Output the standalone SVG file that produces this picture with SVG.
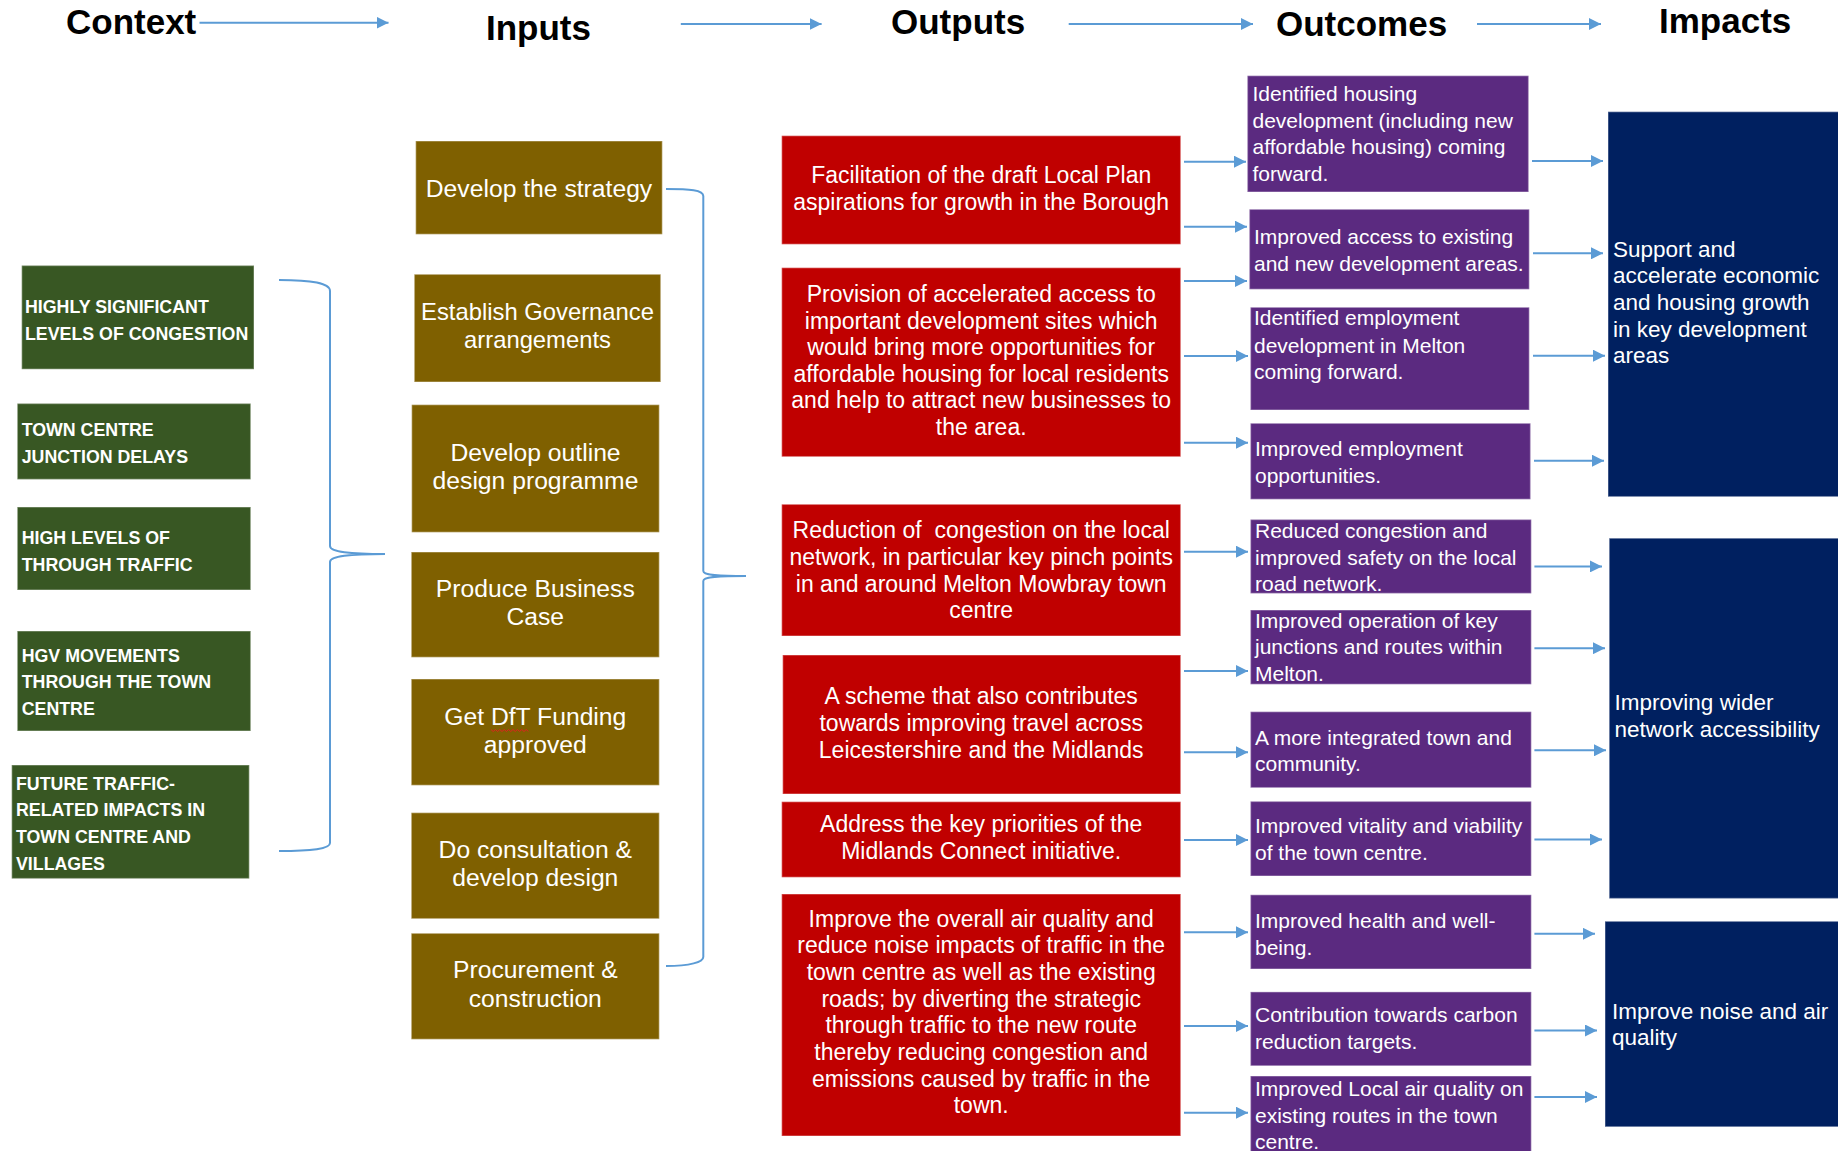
<svg xmlns="http://www.w3.org/2000/svg" width="1838" height="1151" viewBox="0 0 1838 1151">
<style>
.box{stroke:#ffffff;stroke-opacity:.3;stroke-width:1.5}
.ctx{fill:#385723}.inp{fill:#7F6000}.out{fill:#C00000}.oc{fill:#5B2A80}.im{fill:#002060}
text{font-family:"Liberation Sans",Arial,sans-serif;fill:#ffffff}
.hd{font-size:35px;font-weight:bold;fill:#000000}
.tc{font-weight:bold;font-size:17.8px}
.ti{font-size:24.7px;text-anchor:middle}
.to{font-size:23px;text-anchor:middle}
.toc{font-size:21px}
.tim{font-size:22.5px}
.ln{stroke:#5B9BD5;stroke-width:2;fill:none}
.ar{stroke:#5B9BD5;stroke-width:2;fill:none;marker-end:url(#ah)}
</style>
<defs>
<marker id="ah" viewBox="0 0 10 10" refX="10" refY="5" markerUnits="userSpaceOnUse" markerWidth="12" markerHeight="12" orient="auto">
<path d="M0,0 L10,5 L0,10 z" fill="#5B9BD5"/>
</marker>
</defs>
<rect width="1838" height="1151" fill="#ffffff"/>

<g id="headers">
<text class="hd" x="66" y="34">Context</text>
<text class="hd" x="486" y="40">Inputs</text>
<text class="hd" x="891" y="34">Outputs</text>
<text class="hd" x="1276" y="36">Outcomes</text>
<text class="hd" x="1659" y="33">Impacts</text>
</g>

<g id="context">
<g id="ctx1"><rect class="box ctx" x="21.7" y="265.5" width="232.3" height="103.7"/>
<text class="tc"><tspan x="25" y="313">HIGHLY SIGNIFICANT</tspan><tspan x="25" y="340">LEVELS OF CONGESTION</tspan></text></g>
<g id="ctx2"><rect class="box ctx" x="17.3" y="403.5" width="233.4" height="75.9"/>
<text class="tc"><tspan x="21.7" y="436">TOWN CENTRE</tspan><tspan x="21.7" y="462.5">JUNCTION DELAYS</tspan></text></g>
<g id="ctx3"><rect class="box ctx" x="17.3" y="507" width="233.4" height="83"/>
<text class="tc"><tspan x="21.7" y="544">HIGH LEVELS OF</tspan><tspan x="21.7" y="570.5">THROUGH TRAFFIC</tspan></text></g>
<g id="ctx4"><rect class="box ctx" x="17.3" y="631" width="233.4" height="100"/>
<text class="tc"><tspan x="21.7" y="661.5">HGV MOVEMENTS</tspan><tspan x="21.7" y="688">THROUGH THE TOWN</tspan><tspan x="21.7" y="715">CENTRE</tspan></text></g>
<g id="ctx5"><rect class="box ctx" x="11.7" y="765" width="237.6" height="113.6"/>
<text class="tc"><tspan x="16" y="789.6">FUTURE TRAFFIC-</tspan><tspan x="16" y="816.3">RELATED IMPACTS IN</tspan><tspan x="16" y="843">TOWN CENTRE AND</tspan><tspan x="16" y="869.6">VILLAGES</tspan></text></g>
</g>

<g id="inputs">
<g id="in1"><rect class="box inp" x="415.7" y="141" width="246.6" height="93.3"/>
<text class="ti"><tspan x="539" y="196.7">Develop the strategy</tspan></text></g>
<g id="in2"><rect class="box inp" x="414.3" y="274.3" width="246.4" height="107.7"/>
<text class="ti" style="font-size:23.8px"><tspan x="537.5" y="320">Establish Governance</tspan><tspan x="537.5" y="348.3">arrangements</tspan></text></g>
<g id="in3"><rect class="box inp" x="411.7" y="404.7" width="247.6" height="127.6"/>
<text class="ti"><tspan x="535.5" y="460.7">Develop outline</tspan><tspan x="535.5" y="489">design programme</tspan></text></g>
<g id="in4"><rect class="box inp" x="411.3" y="552" width="248" height="105.3"/>
<text class="ti"><tspan x="535.3" y="596.7">Produce Business</tspan><tspan x="535.3" y="625">Case</tspan></text></g>
<g id="in5"><rect class="box inp" x="411.3" y="679" width="248" height="106.3"/>
<text class="ti"><tspan x="535.3" y="725">Get DfT Funding</tspan><tspan x="535.3" y="752.7">approved</tspan></text>
<path d="M491,729.5 l2.2,2 l2.2,-2 l2.2,2 l2.2,-2 l2.2,2 l2.2,-2 l2.2,2 l2.2,-2 l2.2,2 l2.2,-2 l2.2,2 l2.2,-2 l2.2,2 l2.2,-2 l2.2,2 l2.2,-2 l2.2,2" fill="none" stroke="#e02020" stroke-width="1"/></g>
<g id="in6"><rect class="box inp" x="411.3" y="812.7" width="248" height="106"/>
<text class="ti"><tspan x="535.3" y="857.7">Do consultation &amp;</tspan><tspan x="535.3" y="886">develop design</tspan></text></g>
<g id="in7"><rect class="box inp" x="411.3" y="933.3" width="248" height="106"/>
<text class="ti"><tspan x="535.3" y="978.3">Procurement &amp;</tspan><tspan x="535.3" y="1006.7">construction</tspan></text></g>
</g>

<g id="outputs">
<g id="out1"><rect class="box out" x="781.7" y="135.7" width="399" height="108.6"/>
<text class="to"><tspan x="981.2" y="183.3">Facilitation of the draft Local Plan</tspan><tspan x="981.2" y="210">aspirations for growth in the Borough</tspan></text></g>
<g id="out2"><rect class="box out" x="781.7" y="267.7" width="399" height="189"/>
<text class="to"><tspan x="981.2" y="302">Provision of accelerated access to</tspan><tspan x="981.2" y="328.6">important development sites which</tspan><tspan x="981.2" y="355.2">would bring more opportunities for</tspan><tspan x="981.2" y="381.8">affordable housing for local residents</tspan><tspan x="981.2" y="408.4">and help to attract new businesses to</tspan><tspan x="981.2" y="435">the area.</tspan></text></g>
<g id="out3"><rect class="box out" x="781.7" y="504.3" width="399" height="131.7"/>
<text class="to" xml:space="preserve"><tspan x="981.2" y="538.3">Reduction of  congestion on the local</tspan><tspan x="981.2" y="565">network, in particular key pinch points</tspan><tspan x="981.2" y="591.7">in and around Melton Mowbray town</tspan><tspan x="981.2" y="618.3">centre</tspan></text></g>
<g id="out4"><rect class="box out" x="782.7" y="655" width="398" height="139"/>
<text class="to"><tspan x="981.2" y="704.3">A scheme that also contributes</tspan><tspan x="981.2" y="731">towards improving travel across</tspan><tspan x="981.2" y="757.7">Leicestershire and the Midlands</tspan></text></g>
<g id="out5"><rect class="box out" x="781.7" y="801.7" width="399" height="75.6"/>
<text class="to"><tspan x="981.2" y="832.3">Address the key priorities of the</tspan><tspan x="981.2" y="859">Midlands Connect initiative.</tspan></text></g>
<g id="out6"><rect class="box out" x="781.7" y="894" width="399" height="242"/>
<text class="to"><tspan x="981.2" y="926.7">Improve the overall air quality and</tspan><tspan x="981.2" y="953.4">reduce noise impacts of traffic in the</tspan><tspan x="981.2" y="980">town centre as well as the existing</tspan><tspan x="981.2" y="1006.7">roads; by diverting the strategic</tspan><tspan x="981.2" y="1033.3">through traffic to the new route</tspan><tspan x="981.2" y="1060">thereby reducing congestion and</tspan><tspan x="981.2" y="1086.7">emissions caused by traffic in the</tspan><tspan x="981.2" y="1113.3">town.</tspan></text></g>
</g>

<g id="outcomes">
<g id="oc1"><rect class="box oc" x="1247.4" y="75.7" width="281.2" height="116.3"/>
<text class="toc"><tspan x="1252.5" y="101">Identified housing</tspan><tspan x="1252.5" y="127.7">development (including new</tspan><tspan x="1252.5" y="154.3">affordable housing) coming</tspan><tspan x="1252.5" y="181">forward.</tspan></text></g>
<g id="oc2"><rect class="box oc" x="1249.4" y="209.3" width="279.9" height="80"/>
<text class="toc"><tspan x="1254" y="244">Improved access to existing</tspan><tspan x="1254" y="270.7">and new development areas.</tspan></text></g>
<g id="oc3"><rect class="box oc" x="1250.5" y="307.3" width="278.8" height="102.7"/>
<text class="toc"><tspan x="1254" y="325">Identified employment</tspan><tspan x="1254" y="352.7">development in Melton</tspan><tspan x="1254" y="379.3">coming forward.</tspan></text></g>
<g id="oc4"><rect class="box oc" x="1250.5" y="423.3" width="280" height="76"/>
<text class="toc"><tspan x="1255" y="456">Improved employment</tspan><tspan x="1255" y="482.7">opportunities.</tspan></text></g>
<g id="oc5"><rect class="box oc" x="1250.5" y="519.5" width="280.8" height="73.9"/>
<text class="toc"><tspan x="1255" y="538.2">Reduced congestion and</tspan><tspan x="1255" y="565.2">improved safety on the local</tspan><tspan x="1255" y="590.5">road network.</tspan></text></g>
<g id="oc6"><rect class="box oc" x="1250.5" y="610" width="280.8" height="74.3"/>
<text class="toc"><tspan x="1255" y="627.9">Improved operation of key</tspan><tspan x="1255" y="654.4">junctions and routes within</tspan><tspan x="1255" y="681.4">Melton.</tspan></text></g>
<g id="oc7"><rect class="box oc" x="1250.5" y="711.7" width="280.8" height="76"/>
<text class="toc"><tspan x="1255" y="744.9">A more integrated town and</tspan><tspan x="1255" y="771">community.</tspan></text></g>
<g id="oc8"><rect class="box oc" x="1250.5" y="801.4" width="280.8" height="74.6"/>
<text class="toc"><tspan x="1255" y="833.3">Improved vitality and viability</tspan><tspan x="1255" y="860.3">of the town centre.</tspan></text></g>
<g id="oc9"><rect class="box oc" x="1250.5" y="894.8" width="280.8" height="74.2"/>
<text class="toc"><tspan x="1255" y="927.6">Improved health and well-</tspan><tspan x="1255" y="954.5">being.</tspan></text></g>
<g id="oc10"><rect class="box oc" x="1250.5" y="991.9" width="280.8" height="73.9"/>
<text class="toc"><tspan x="1255" y="1022.2">Contribution towards carbon</tspan><tspan x="1255" y="1048.8">reduction targets.</tspan></text></g>
<g id="oc11"><rect class="box oc" x="1250.5" y="1076" width="280.8" height="80"/>
<text class="toc"><tspan x="1255" y="1095.7">Improved Local air quality on</tspan><tspan x="1255" y="1122.7">existing routes in the town</tspan><tspan x="1255" y="1148.8">centre.</tspan></text></g>
</g>

<g id="impacts">
<g id="im1"><rect class="box im" x="1608" y="111.7" width="235" height="385"/>
<text class="tim"><tspan x="1613" y="256.7">Support and</tspan><tspan x="1613" y="283.3">accelerate economic</tspan><tspan x="1613" y="310">and housing growth</tspan><tspan x="1613" y="336.7">in key development</tspan><tspan x="1613" y="363.3">areas</tspan></text></g>
<g id="im2"><rect class="box im" x="1609.2" y="538.2" width="235" height="360.3"/>
<text class="tim"><tspan x="1614.6" y="709.6">Improving wider</tspan><tspan x="1614.6" y="736.6">network accessibility</tspan></text></g>
<g id="im3"><rect class="box im" x="1605" y="921.3" width="238" height="205.5"/>
<text class="tim"><tspan x="1612" y="1018.9">Improve noise and air</tspan><tspan x="1612" y="1045">quality</tspan></text></g>
</g>

<g id="connectors">
<line class="ar" x1="199.5" y1="22.7" x2="388.5" y2="22.7"/>
<line class="ar" x1="680.8" y1="24" x2="821.6" y2="24"/>
<line class="ar" x1="1068.7" y1="24" x2="1253" y2="24"/>
<line class="ar" x1="1477" y1="24" x2="1601" y2="24"/>
<path class="ln" d="M279,280 C312,280 330,283 330,291 L330,546 C330,552 350,554 385,554 C350,554 330,556 330,562 L330,843 C330,849 312,851 279,851"/>
<path class="ln" d="M666,189 C690,189 703.3,190 703.3,196 L703.3,571 C703.3,575 715,576 746,576 C715,576 703.3,577 703.3,581 L703.3,957 C703.3,962 690,966 666,966"/>
<line class="ar" x1="1184" y1="161.7" x2="1246" y2="161.7"/>
<line class="ar" x1="1184" y1="226.7" x2="1247" y2="226.7"/>
<line class="ar" x1="1184" y1="281" x2="1247" y2="281"/>
<line class="ar" x1="1184" y1="356" x2="1248" y2="356"/>
<line class="ar" x1="1184" y1="442.7" x2="1248" y2="442.7"/>
<line class="ar" x1="1184" y1="551.7" x2="1248" y2="551.7"/>
<line class="ar" x1="1184" y1="671" x2="1248" y2="671"/>
<line class="ar" x1="1184" y1="752.3" x2="1248" y2="752.3"/>
<line class="ar" x1="1184" y1="840" x2="1248" y2="840"/>
<line class="ar" x1="1184" y1="932.3" x2="1248" y2="932.3"/>
<line class="ar" x1="1184" y1="1026" x2="1248" y2="1026"/>
<line class="ar" x1="1184" y1="1112.7" x2="1248" y2="1112.7"/>
<line class="ar" x1="1532" y1="161" x2="1603" y2="161"/>
<line class="ar" x1="1533" y1="253.3" x2="1603" y2="253.3"/>
<line class="ar" x1="1533" y1="355.7" x2="1605" y2="355.7"/>
<line class="ar" x1="1534" y1="460.7" x2="1604" y2="460.7"/>
<line class="ar" x1="1534.4" y1="566.4" x2="1602" y2="566.4"/>
<line class="ar" x1="1534.4" y1="648.2" x2="1605" y2="648.2"/>
<line class="ar" x1="1534.4" y1="750.3" x2="1606" y2="750.3"/>
<line class="ar" x1="1534.4" y1="839.6" x2="1602" y2="839.6"/>
<line class="ar" x1="1534.4" y1="933.8" x2="1595" y2="933.8"/>
<line class="ar" x1="1534.4" y1="1030.5" x2="1597" y2="1030.5"/>
<line class="ar" x1="1534.4" y1="1097" x2="1597" y2="1097"/>
</g>
</svg>
